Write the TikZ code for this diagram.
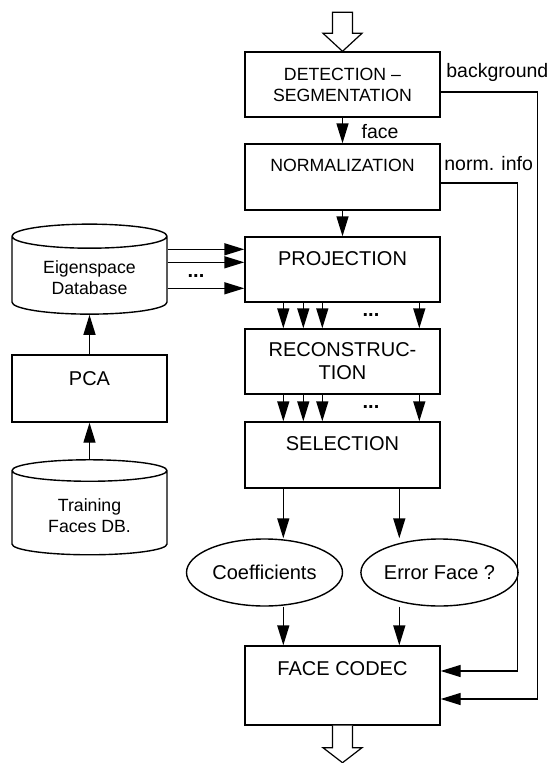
\documentclass[tikz,border=0pt]{standalone}
\usepackage{fontspec}
\setmainfont{Liberation Sans}
\usetikzlibrary{arrows.meta,shapes.geometric,positioning,calc}

\begin{document}
\begin{tikzpicture}[x=1pt,y=-1pt,line width=1.4pt,
    every node/.style={font=\fontsize{20}{23}\selectfont},
    small/.style={font=\fontsize{17.7}{21}\selectfont},
    stage/.style={draw,rectangle,minimum width=195pt,minimum height=65pt,inner sep=0pt,align=center},
    upper/.style={text height=15pt,text depth=#1},
    upper/.default=24pt,
    store/.style={draw,cylinder,shape border rotate=90,aspect=0.26,minimum width=155pt,inner sep=0pt,
        small,text height=30pt,text depth=12pt},
    blob/.style={draw,ellipse,minimum width=156pt,minimum height=67pt,inner sep=0pt},
    tag/.style={inner sep=0pt,anchor=base west,font=\fontsize{19.5}{22}\selectfont},
    flow/.style={-{Triangle[length=20pt,width=12pt]}},
    bigarrow/.style={line width=1.2pt,fill=white}
    ]
    \useasboundingbox (0,0) rectangle (550,763);

    % the main chain
    \node[stage,small] (detect) at (342.5,84.5) {DETECTION --\\SEGMENTATION};
    \node[stage,small,upper=26pt,minimum height=66pt] (normal) at (342.5,177) {NORMALIZATION};
    \node[stage,upper] (proj) at (342.5,269.5) {PROJECTION};
    \node[stage] (recon) at (342.5,361.5) {RECONSTRUC-\\TION};
    \node[stage,upper,minimum height=66pt] (sel) at (342.5,455) {SELECTION};
    \node[blob] (coef) at (264.5,572.5) {Coefficients};
    \node[blob] (errface) at (439.5,572.5) {Error Face ?};
    \node[stage,upper=36pt,minimum height=79pt] (codec) at (342.5,685.5) {FACE CODEC};

    % the training side
    \node[store,minimum height=90pt] (eig) at (89.5,275.5)
        {\begin{tabular}{@{}c@{}}Eigenspace\\Database\end{tabular}};
    \node[stage,upper=22pt,minimum width=155pt,minimum height=67pt] (pca) at (89.5,388.5) {PCA};
    \node[store,minimum height=95pt] (train) at (89.5,513)
        {\begin{tabular}{@{}c@{}}Training\\Faces DB.\end{tabular}};

    % the dots
    \node (dotsin) at (196,276) {\textbf{...}};
    \node (dotsa) at (371,315) {\textbf{...}};
    \node (dotsb) at (371,407) {\textbf{...}};

    % the labels
    \node[tag] (bglabel) at ([xshift=5pt,yshift=-26pt]detect.north east) {background};
    \node[tag] (facelabel) at ([xshift=18.5pt,yshift=-21pt]detect.south) {face};
    \node[tag] (normlabel) at ([xshift=3pt,yshift=-27.5pt]normal.north east) {norm. info};

    % in and out
    \draw[bigarrow] (detect.north) -- ++(-19.5,-18) -- ++(9.5,0) -- ++(0,-21)
        -- ++(20,0) -- ++(0,21) -- ++(9.5,0) -- cycle;
    \draw[bigarrow] ([xshift=-10pt]codec.south) -- ++(0,22) -- ++(-9.5,0) -- ++(19.5,15)
        -- ++(19.5,-15) -- ++(-9.5,0) -- ++(0,-22);

    % the edges
    \draw[flow] (detect.south) -- (normal.north);
    \draw[flow] (normal.south) -- (proj.north);
    \foreach \dx in {39,59,78,175} {
        \draw[flow] ([xshift=\dx pt]proj.south west) -- ([xshift=\dx pt]recon.north west);
        \draw[flow] ([xshift=\dx pt]recon.south west) -- ([xshift=\dx pt]sel.north west);
    }
    \foreach \dy in {13,26,52} {
        \coordinate (p\dy) at ($(proj.north west)+(0,\dy)$);
        \draw[flow] (eig.east |- p\dy) -- (p\dy);
    }
    \draw[flow] (pca.north) -- (eig.south);
    \draw[flow] (train.north) -- (pca.south);

    \path ([xshift=39pt]sel.south west) coordinate (selA)
          ([xshift=155pt]sel.south west) coordinate (selB);
    \draw[flow] (selA) -- (selA |- coef.north);
    \draw[flow] (selB) -- (selB |- errface.north);
    \draw[flow] (selA |- coef.south) -- (selA |- codec.north);
    \draw[flow] (selB |- errface.south) -- (selB |- codec.north);

    \draw[flow] ([yshift=-7.5pt]detect.east) -- ++(97,0) |- ([yshift=-13.5pt]codec.east);
    \draw[flow] ([yshift=-6pt]normal.east) -- ++(77,0) |- ([yshift=14.5pt]codec.east);
\end{tikzpicture}
\end{document}
